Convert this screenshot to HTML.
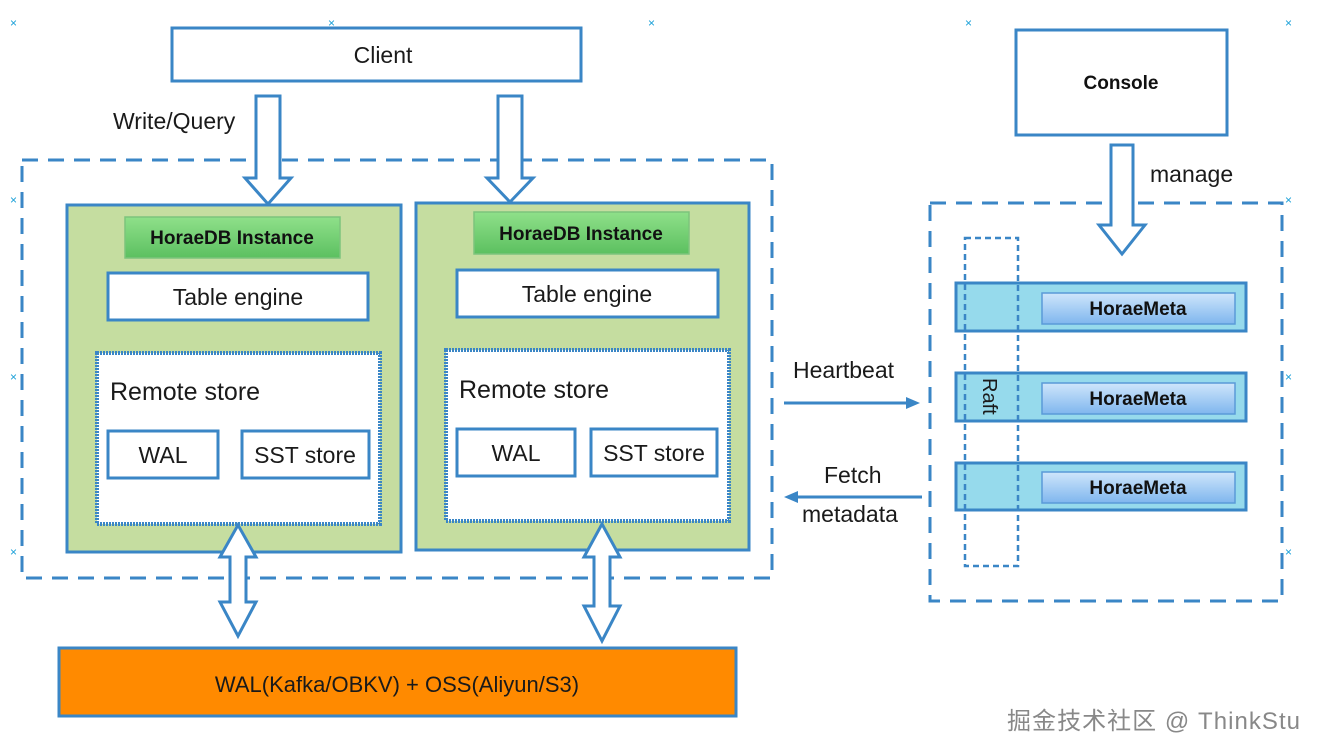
<!DOCTYPE html>
<html><head><meta charset="utf-8"><style>
html,body{margin:0;padding:0;background:#fff;}
svg{display:block;font-family:"Liberation Sans","Noto Sans CJK SC",sans-serif;}
.t{font-size:23px;fill:#1a1a1a;}
.b{font-weight:bold;font-size:19px;fill:#111;}
.x{fill:#1aa0d8;font-size:12px;}
</style></head><body>
<svg width="1324" height="756" viewBox="0 0 1324 756" xmlns="http://www.w3.org/2000/svg">
<defs>
<linearGradient id="g" x1="0" y1="0" x2="0" y2="1"><stop offset="0" stop-color="#8fe08a"/><stop offset="1" stop-color="#5cc060"/></linearGradient>
<linearGradient id="hm" x1="0" y1="0" x2="0" y2="1"><stop offset="0" stop-color="#cfe6fb"/><stop offset="1" stop-color="#7fb6ee"/></linearGradient>
</defs>
<g fill="none" stroke="#3a86c6" stroke-width="3">
<rect x="172" y="28" width="409" height="53" fill="#fff"/>
<rect x="1016" y="30" width="211" height="105" fill="#fff"/>
<rect x="22" y="160" width="750" height="418" stroke-dasharray="16,10"/>
<rect x="930" y="203" width="352" height="398" stroke-dasharray="16,10"/>
<rect x="67" y="205" width="334" height="347" fill="#c5dda0"/>
<rect x="416" y="203" width="333" height="347" fill="#c5dda0"/>
<rect x="125" y="217" width="215" height="41" fill="url(#g)" stroke="#7cc47c" stroke-width="1.5"/>
<rect x="474" y="212" width="215" height="42" fill="url(#g)" stroke="#7cc47c" stroke-width="1.5"/>
<rect x="108" y="273" width="260" height="47" fill="#fff"/>
<rect x="457" y="270" width="261" height="47" fill="#fff"/>
<rect x="97" y="353" width="283" height="171" fill="#fff" stroke-width="4" stroke-dasharray="2,1"/>
<rect x="446" y="350" width="283" height="171" fill="#fff" stroke-width="4" stroke-dasharray="2,1"/>
<rect x="108" y="431" width="110" height="47" fill="#fff"/>
<rect x="242" y="431" width="127" height="47" fill="#fff"/>
<rect x="457" y="429" width="118" height="47" fill="#fff"/>
<rect x="591" y="429" width="126" height="47" fill="#fff"/>
<rect x="59" y="648" width="677" height="68" fill="#ff8a00"/>
<path d="M256 96 H280 V178 H291 L268 204 L245 178 H256 Z" fill="#fff"/>
<path d="M498 96 H522 V178 H533 L510 202 L487 178 H498 Z" fill="#fff"/>
<path d="M1111 145 H1133 V225 H1145 L1122 254 L1099 225 H1111 Z" fill="#fff"/>
<path d="M238 525 L256 557 H246 V602 H256 L238 636 L220 602 H230 V557 H220 Z" fill="#fff"/>
<path d="M602 524 L620 557 H610 V606 H620 L602 641 L584 606 H594 V557 H584 Z" fill="#fff"/>
<rect x="956" y="283" width="290" height="48" fill="#8bd6ea" fill-opacity="0.9"/>
<rect x="956" y="373" width="290" height="48" fill="#8bd6ea" fill-opacity="0.9"/>
<rect x="956" y="463" width="290" height="47" fill="#8bd6ea" fill-opacity="0.9"/>
<rect x="965" y="238" width="53" height="328" stroke-dasharray="6,4" stroke-width="2.5"/>
<rect x="1042" y="293" width="193" height="31" fill="url(#hm)" stroke="#5a9ad8" stroke-width="1.5"/>
<rect x="1042" y="383" width="193" height="31" fill="url(#hm)" stroke="#5a9ad8" stroke-width="1.5"/>
<rect x="1042" y="472" width="193" height="31" fill="url(#hm)" stroke="#5a9ad8" stroke-width="1.5"/>
<line x1="784" y1="403" x2="910" y2="403"/>
<line x1="922" y1="497" x2="794" y2="497"/>
</g>
<path d="M920 403 L906 397 L906 409 Z" fill="#3a86c6"/>
<path d="M784 497 L798 491 L798 503 Z" fill="#3a86c6"/>
<g class="t" text-anchor="middle">
<text x="383" y="63">Client</text>
<text x="238" y="305">Table engine</text>
<text x="587" y="302">Table engine</text>
<text x="163" y="463">WAL</text>
<text x="305" y="463">SST store</text>
<text x="516" y="461">WAL</text>
<text x="654" y="461">SST store</text>
<text x="397" y="692" font-size="22">WAL(Kafka/OBKV) + OSS(Aliyun/S3)</text>
</g>
<g class="t">
<text x="110" y="400" font-size="25">Remote store</text>
<text x="459" y="398" font-size="25">Remote store</text>
<text x="113" y="129">Write/Query</text>
<text x="1150" y="182">manage</text>
<text x="793" y="378">Heartbeat</text>
<text x="824" y="483">Fetch</text>
<text x="802" y="522">metadata</text>
<text x="0" y="0" transform="translate(983,378) rotate(90)" font-size="20">Raft</text>
</g>
<g class="b" text-anchor="middle">
<text x="232" y="244">HoraeDB Instance</text>
<text x="581" y="240">HoraeDB Instance</text>
<text x="1121" y="89">Console</text>
<text x="1138" y="315">HoraeMeta</text>
<text x="1138" y="405">HoraeMeta</text>
<text x="1138" y="494">HoraeMeta</text>
</g>
<g class="x">
<text x="10" y="27">×</text><text x="328" y="27">×</text><text x="648" y="27">×</text><text x="965" y="27">×</text><text x="1285" y="27">×</text>
<text x="10" y="204">×</text><text x="1285" y="204">×</text>
<text x="10" y="381">×</text><text x="1285" y="381">×</text>
<text x="10" y="556">×</text><text x="1285" y="556">×</text>
</g>
<text x="1007" y="729" font-size="24" fill="#888" textLength="293">掘金技术社区 @ ThinkStu</text>
</svg>
</body></html>
